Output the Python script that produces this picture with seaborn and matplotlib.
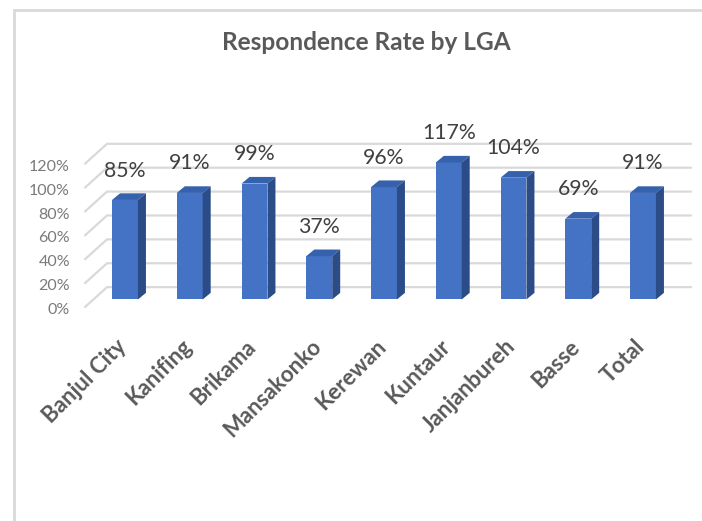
import matplotlib
matplotlib.use("Agg")
import matplotlib.pyplot as plt
from matplotlib.patches import Polygon
from matplotlib.lines import Line2D
from matplotlib.transforms import ScaledTranslation
import seaborn as sns
import pandas as pd

# Response rate per Local Government Area
lgas = ["Banjul City", "Kanifing", "Brikama", "Mansakonko", "Kerewan",
        "Kuntaur", "Janjanbureh", "Basse", "Total"]
rates = [85, 91, 99, 37, 96, 117, 104, 69, 91]
tick_values = [0, 20, 40, 60, 80, 100, 120]
tick_labels = [f"{v}%" for v in tick_values]
title_text = "Respondence Rate by LGA"

sns.set_theme(style="white")
plt.rcParams["font.family"] = ["Lato", "DejaVu Sans"]

FRONT = "#4472c4"
TOP = "#3561ad"
SIDE = "#2b4c87"
GRID = "#d9d9d9"
TEXT = "#595959"

W, H = 702, 521
fig = plt.figure(figsize=(W / 100, H / 100), dpi=100)

# pixel geometry of the plot box (bar front plane)
SX = 64.75     # px per category
SY = 1.235     # px per percentage point
X0, Y0 = 125, 308
left_px, right_px, top_px = 85, 691, 144
ax = fig.add_axes([left_px / W, (H - Y0) / H,
                   (right_px - left_px) / W, (Y0 - top_px) / H])

df = pd.DataFrame({"lga": lgas, "rate": rates})
sns.barplot(data=df, x="lga", y="rate", width=0.4, color=FRONT,
            saturation=1, ax=ax, zorder=3, linewidth=0)

ax.set_xlim((left_px - X0) / SX, (right_px - X0) / SX)
ax.set_ylim(0, (Y0 - top_px) / SY)

# frame around the chart area
fig.add_artist(Line2D([13.5 / W, 13.5 / W], [0, (H - 9.5) / H],
                      color=GRID, lw=2, transform=fig.transFigure))
fig.add_artist(Line2D([13.5 / W, 1], [(H - 9.5) / H, (H - 9.5) / H],
                      color=GRID, lw=2, transform=fig.transFigure))

# back wall gridlines and side wall diagonals
xf = (85 - X0) / SX
xb = (107 - X0) / SX
xr = (right_px - X0) / SX
for v in tick_values:
    yf = (Y0 - 316 + 1.26 * v) / SY
    yb = (Y0 - 295 + 1.26 * v) / SY
    ax.plot([xf, xb, xr], [yf, yb, yb], color=GRID, lw=1.6,
            clip_on=False, zorder=0, solid_joinstyle="miter")

# depth faces of each column
ddx = 8 / SX
ddy = 7 / SY
for p in list(ax.patches):
    x, w, h = p.get_x(), p.get_width(), p.get_height()
    top = Polygon([(x, h), (x + w, h), (x + w + ddx, h + ddy), (x + ddx, h + ddy)],
                  closed=True, facecolor=TOP, edgecolor="none", zorder=3,
                  clip_on=False)
    side = Polygon([(x + w, 0), (x + w + ddx, ddy), (x + w + ddx, h + ddy), (x + w, h)],
                   closed=True, facecolor=SIDE, edgecolor="none", zorder=3,
                   clip_on=False)
    ax.add_patch(top)
    ax.add_patch(side)

ax.bar_label(ax.containers[0], labels=[f"{r}%" for r in rates], padding=14,
             fontsize=15.3, color="#404040")

for s in ax.spines.values():
    s.set_visible(False)
ax.set_xlabel("")
ax.set_ylabel("")

ytick_pos = [(Y0 - 317 + 1.25 * v) / SY for v in tick_values]
ax.set_yticks(ytick_pos)
ax.set_yticklabels(tick_labels, fontsize=11.5, color="#7a7a7a")
ax.tick_params(axis="y", length=0, pad=10.8)

ax.set_xticks(range(len(lgas)))
ax.set_xticklabels(lgas, rotation=45, ha="right", rotation_mode="anchor",
                   fontsize=16, fontweight="bold", color=TEXT)
ax.tick_params(axis="x", length=0, pad=20)
shift = ScaledTranslation(-9 / 100, 0, fig.dpi_scale_trans)
for lbl in ax.get_xticklabels():
    lbl.set_transform(lbl.get_transform() + shift)

fig.text(366 / W, (H - 43) / H, title_text, ha="center", va="center",
         fontsize=17.6, fontweight="bold", color=TEXT)

fig.savefig("out.png", dpi=100, facecolor="white")
